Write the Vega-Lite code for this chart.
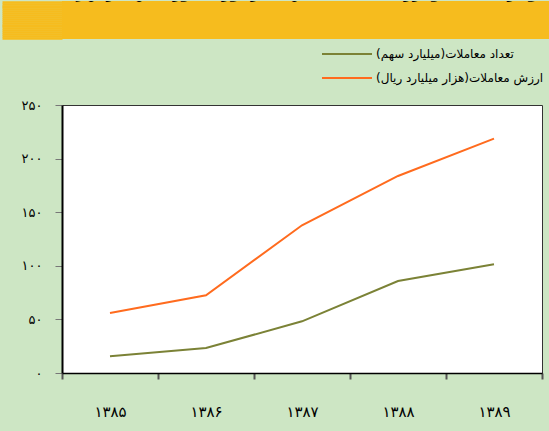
{
  "$schema": "https://vega.github.io/schema/vega-lite/v6.json",
  "background": "#CDE6C4",
  "padding": {"left": 0, "top": 0, "right": 0, "bottom": 15},
  "spacing": 0,
  "resolve": {"scale": {"color": "independent", "y": "independent"}, "legend": {"color": "independent"}},
  "config": {"font": "DejaVu Sans", "view": {"stroke": null}},
  "vconcat": [
    {
      "width": 488,
      "height": 38,
      "view": {"fill": "#F6BC1E", "stroke": null},
      "data": {"values": [{"title": "نمودار ۱: تعداد و ارزش معاملات سهام در بورس اوراق بهادار تهران"}]},
      "mark": {"type": "text", "clip": true, "fontSize": 15, "fontWeight": "bold", "color": "black", "baseline": "alphabetic", "dy": -22, "dx": 0},
      "encoding": {
        "text": {"field": "title"},
        "y": {"datum": 0.5, "type": "quantitative", "scale": {"domain": [0, 1]},
              "axis": {"values": [0.03, 0.08, 0.13, 0.18, 0.23, 0.28, 0.33, 0.38, 0.43, 0.48, 0.53, 0.58, 0.63, 0.68, 0.73, 0.78, 0.83, 0.88, 0.93, 0.97],
                       "title": null, "labels": false, "domain": false, "grid": false,
                       "tickSize": 60, "tickWidth": 2.4, "tickColor": "#F6BC1E", "tickCap": "butt"}}
      }
    },
    {
      "width": 480,
      "height": 268,
      "view": {"fill": "white", "stroke": "#333333", "strokeWidth": 1},
      "data": {"values": [
        {"year": "۱۳۸۵", "series": "تعداد معاملات(میلیارد سهم)", "value": 15.6},
        {"year": "۱۳۸۶", "series": "تعداد معاملات(میلیارد سهم)", "value": 23.3},
        {"year": "۱۳۸۷", "series": "تعداد معاملات(میلیارد سهم)", "value": 48.2},
        {"year": "۱۳۸۸", "series": "تعداد معاملات(میلیارد سهم)", "value": 85.8},
        {"year": "۱۳۸۹", "series": "تعداد معاملات(میلیارد سهم)", "value": 101.4},
        {"year": "۱۳۸۵", "series": "ارزش معاملات(هزار میلیارد ریال)", "value": 56},
        {"year": "۱۳۸۶", "series": "ارزش معاملات(هزار میلیارد ریال)", "value": 72.5},
        {"year": "۱۳۸۷", "series": "ارزش معاملات(هزار میلیارد ریال)", "value": 137.8},
        {"year": "۱۳۸۸", "series": "ارزش معاملات(هزار میلیارد ریال)", "value": 183.8},
        {"year": "۱۳۸۹", "series": "ارزش معاملات(هزار میلیارد ریال)", "value": 218.6}
      ]},
      "mark": {"type": "line", "strokeWidth": 2},
      "encoding": {
        "x": {
          "field": "year", "type": "ordinal", "sort": null,
          "scale": {"type": "band", "paddingInner": 0, "paddingOuter": 0},
          "axis": {"title": null, "labelAngle": 0, "tickBand": "extent", "domainColor": "black", "domainWidth": 1.5,
                   "tickColor": "#555555", "tickWidth": 2, "tickSize": 6, "labelFontSize": 15, "labelPadding": 25, "labelColor": "black"}
        },
        "y": {
          "field": "value", "type": "quantitative",
          "scale": {"domain": [0, 250], "nice": false},
          "axis": {"title": ".", "titleOpacity": 0, "titleFontSize": 2, "titleX": -50, "titleY": -64,
                   "values": [0, 50, 100, 150, 200, 250], "grid": false, "domainColor": "black", "domainWidth": 2,
                   "tickColor": "#777777", "tickSize": 7, "labelPadding": 13, "labelFontSize": 13, "labelColor": "black",
                   "labelExpr": "replace(replace(replace(replace(datum.label, regexp('0','g'), '۰'), regexp('1','g'), '۱'), regexp('2','g'), '۲'), regexp('5','g'), '۵')"}
        },
        "color": {
          "field": "series", "type": "nominal",
          "scale": {"domain": ["تعداد معاملات(میلیارد سهم)", "ارزش معاملات(هزار میلیارد ریال)"], "range": ["#7B8236", "#FF6B1E"]},
          "legend": {"orient": "none", "legendX": 259, "legendY": -58, "direction": "vertical", "title": null, "padding": 0,
                     "symbolType": "stroke", "symbolSize": 2500, "symbolStrokeWidth": 2, "clipHeight": 14, "labelFontSize": 12,
                     "labelColor": "black", "labelLimit": 300, "labelOffset": 3, "rowPadding": 10,
                     "labelExpr": "datum.label + '\u200f'"}
        }
      }
    }
  ]
}
